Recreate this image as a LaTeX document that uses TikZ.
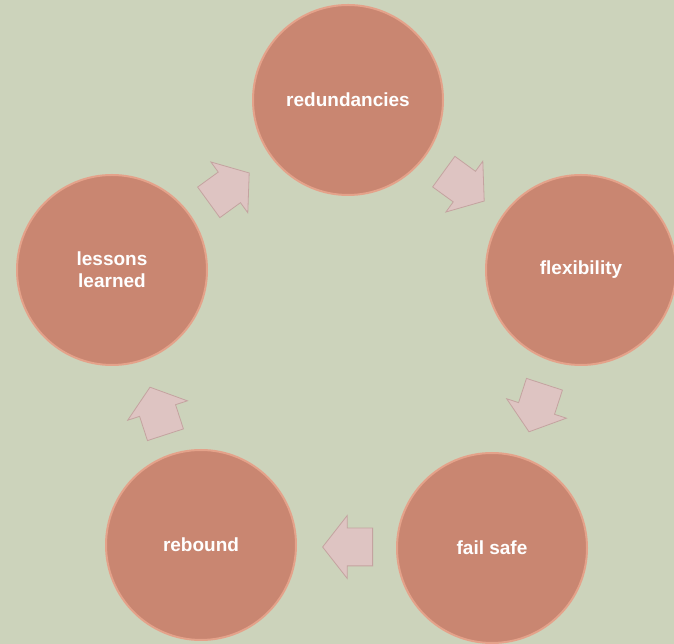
\documentclass[tikz,border=0pt]{standalone}
\usepackage{fontspec}
\setmainfont{Liberation Sans}
\usetikzlibrary{shapes.arrows}
\definecolor{bggreen}{HTML}{CCD3BB}
\definecolor{stagefill}{HTML}{C98671}
\definecolor{stagerim}{HTML}{E4A28A}
\definecolor{arrowfill}{HTML}{DEC4C2}
\definecolor{arrowline}{HTML}{C4A3A0}
\begin{document}
\begin{tikzpicture}[x=1pt, y=1pt,
    stage/.style = {draw=stagerim, line width=2pt, fill=stagefill, circle, minimum size=190pt, inner sep=0pt, text=white, align=center, font=\bfseries\fontsize{19}{22}\selectfont},
    turn/.style = {single arrow, draw=arrowline, fill=arrowfill, line width=0.8pt, text height=0pt, text depth=0pt, inner xsep=0pt, inner ysep=18.5pt, minimum height=50pt, minimum width=62pt, single arrow head extend=12.5pt, single arrow tip angle=104}]
	\useasboundingbox (0,0) rectangle (674,644);
	\fill[bggreen] (0,0) rectangle (674,644);
	\node[stage] (redund) at (348,544) {redundancies};
	\node[stage] (flex) at (581,374) {flexibility};
	\node[stage] (failsafe) at (492,96) {fail safe};
	\node[stage] (rebound) at (201,99) {rebound};
	\node[stage] (lessons) at (112,374) {lessons\\learned};
	\node[turn, rotate=-36] (t1) at (458,462) {};
	\node[turn, rotate=-108] (t2) at (539,243) {};
	\node[turn, rotate=180] (t3) at (355,97) {};
	\node[turn, rotate=108] (t4) at (160,226) {};
	\node[turn, rotate=36] (t5) at (223,452) {};
\end{tikzpicture}
\end{document}
